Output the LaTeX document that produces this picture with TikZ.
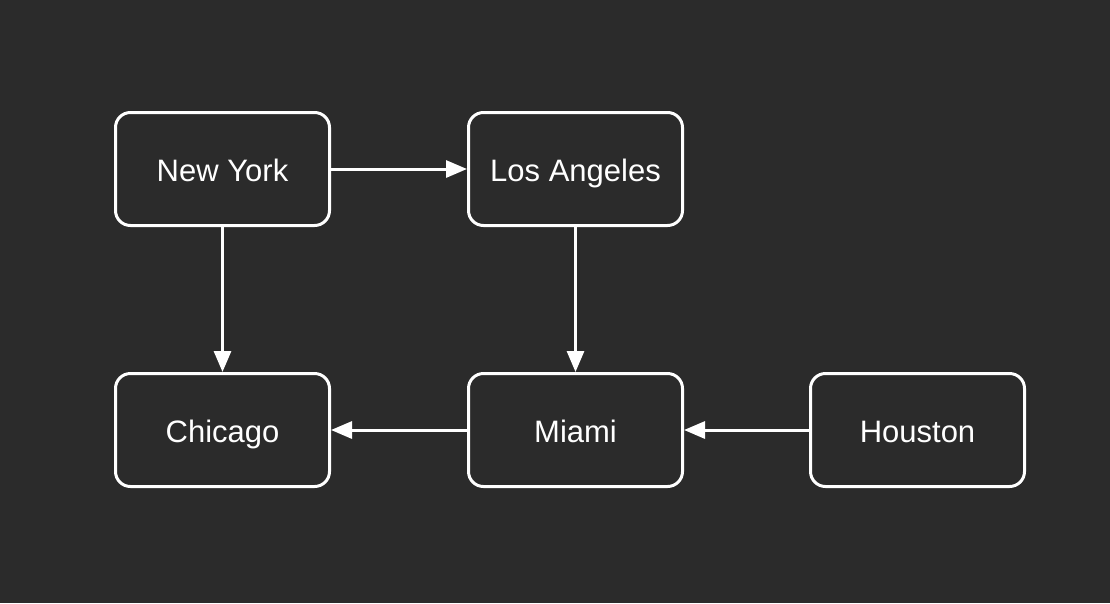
\documentclass[tikz,border=0pt]{standalone}
\usepackage{fontspec}
\setmainfont{Liberation Sans}
\usetikzlibrary{arrows.meta}
\definecolor{DiagBg}{HTML}{2B2B2B}
\definecolor{DiagLine}{HTML}{FFFFFF}

\begin{document}
\begin{tikzpicture}[x=1pt,y=-1pt,font=\fontsize{31pt}{36pt}\selectfont,
      bx/.style={draw=DiagLine,fill=DiagBg,text=DiagLine,line width=3pt,rounded corners=15pt,minimum height=113pt,minimum width=214pt,align=center,inner sep=0pt,text height=24pt,text depth=0pt},
      ar/.style={-{Triangle[length=21pt,width=17pt]},line width=3pt,color=DiagLine}]
      \fill[DiagBg] (0,0) rectangle (1110,603);
      \useasboundingbox (0,0) rectangle (1110,603);
      \node[bx] (ny) at (222.5,169) {New York};
      \node[bx] (la) at (575.5,169) {Los Angeles};
      \node[bx] (chi) at (222.5,430) {Chicago};
      \node[bx] (mia) at (575.5,430) {Miami};
      \node[bx] (hou) at (917.5,430) {Houston};
      \draw[ar] (ny) -- (la); \draw[ar] (ny) -- (chi); \draw[ar] (la) -- (mia);
      \draw[ar] (mia) -- (chi); \draw[ar] (hou) -- (mia);
    \end{tikzpicture}
\end{document}
